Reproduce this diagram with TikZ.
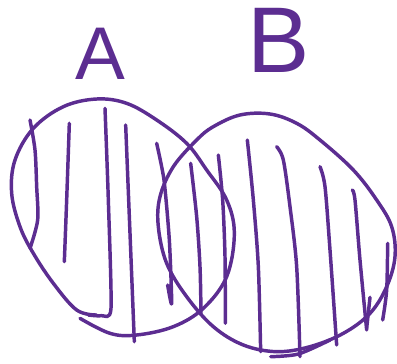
\documentclass[tikz,border=0pt]{standalone}
\usepackage{fontspec}
\setmainfont{Liberation Sans}
\usepackage{xcolor}
\definecolor{ink}{RGB}{92, 45, 145}
\usepackage{tikz}

\begin{document}
\begin{tikzpicture}[
  x=0.25pt, y=-0.25pt,
  pen/.style={draw=ink, line width=2.6pt, line cap=round, line join=round},
  letter/.style={text=ink, inner sep=0pt}
]
\useasboundingbox (0,0) rectangle (1191,1092);

% set labels
\node[letter, font=\fontsize{56}{60}\selectfont] (labA) at (300,162) {A};
\node[letter, font=\fontsize{70}{74}\selectfont] (labB) at (835,122) {B};

% outline of A
\draw[pen] plot[smooth, tension=0.6] coordinates {
  (240,955) (330,1000) (410,1005) (520,980) (610,925) (680,830) (703,700)
  (680,600) (620,510) (560,430) (470,360) (380,310) (290,297) (190,320)
  (100,385) (45,480) (35,580) (60,680) (100,760) (160,850) (230,930) (290,945)};

% outline of B
\draw[pen] plot[smooth cycle, tension=0.6] coordinates {
  (590,420) (520,500) (480,590) (475,680) (500,790) (560,890) (640,980)
  (730,1035) (830,1055) (930,1040) (1030,1000) (1110,940) (1160,860)
  (1185,770) (1175,680) (1130,600) (1060,510) (960,420) (890,370)
  (810,342) (720,345) (640,380)};
\draw[pen] plot[smooth, tension=0.5] coordinates {(812,1070) (895,1062) (990,1020)};

% hatching
\draw[pen] plot[smooth] coordinates {(90,360) (105,450) (110,560) (113,660) (90,745)};
\draw[pen] plot[smooth] coordinates {(208,370) (200,600) (193,785)};
\draw[pen] plot[smooth, tension=0.4] coordinates {(315,325) (325,600) (333,925) (305,947) (265,945)};
\draw[pen] plot[smooth] coordinates {(377,375) (390,700) (403,1025)};
\draw[pen] plot[smooth, tension=0.4] coordinates {(470,430) (492,540) (508,720) (515,910) (503,855)};
\draw[pen] plot[smooth] coordinates {(572,490) (590,650) (600,800) (603,940)};
\draw[pen] plot[smooth] coordinates {(655,465) (668,600) (675,770) (676,970)};
\draw[pen] plot[smooth] coordinates {(742,420) (760,600) (775,800) (782,1055)};
\draw[pen] plot[smooth] coordinates {(830,440) (850,480) (870,620) (890,800) (900,1070)};
\draw[pen] plot[smooth] coordinates {(960,500) (975,560) (990,750) (1010,1035)};
\draw[pen] plot[smooth] coordinates {(1057,570) (1065,600) (1080,780) (1100,990)};
\draw[pen] (1110,892) -- (1100,985);
\draw[pen] plot[smooth] coordinates {(1163,730) (1160,870) (1148,960)};
\end{tikzpicture}
\end{document}
